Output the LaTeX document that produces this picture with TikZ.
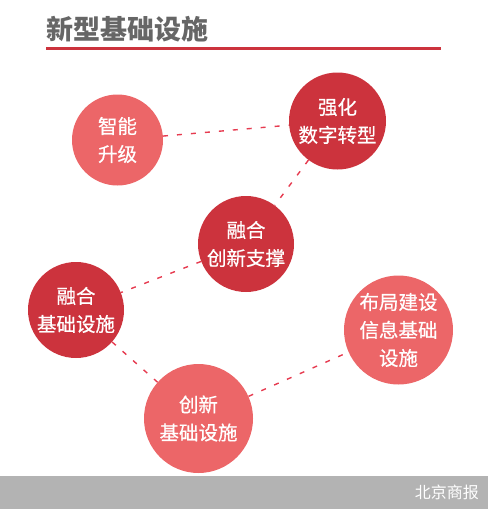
\documentclass[tikz,border=0pt]{standalone}
\usepackage{fontspec}
\usepackage{xcolor}
\usepackage{tikz}
\usetikzlibrary{positioning}
\newfontfamily\cjk{Noto Sans CJK SC}
\newfontfamily\cjkmid[FakeBold=0.6]{Noto Sans CJK SC}
\definecolor{deepred}{HTML}{CC333D}
\definecolor{lightred}{HTML}{EC6668}
\definecolor{dashred}{HTML}{E63B50}
\definecolor{titlegray}{HTML}{666666}
\definecolor{footgray}{HTML}{B3B3B3}

\begin{document}
\begin{tikzpicture}[
  x=1pt, y=-1pt,
  bubble/.style={circle, inner sep=0pt, align=center, text=white,
                 font=\cjkmid\fontsize{19.5}{28}\selectfont},
  darkbubble/.style={bubble, fill=deepred},
  lightbubble/.style={bubble, fill=lightred},
  link/.style={dashred, line width=1.4pt, dash pattern=on 5pt off 9pt}
]
  \useasboundingbox (0,0) rectangle (488,509);

  % 标题
  \node[anchor=west, inner sep=0pt, text=titlegray,
        font=\cjk\bfseries\fontsize{27}{30}\selectfont] (title) at (46,29) {新型基础设施};
  \draw[deepred, line width=3pt] (46,48) -- (441,48);

  % 圆
  \node[lightbubble, minimum size=91pt] (smart) at (117.5,140) {智能\\升级};
  \node[darkbubble, minimum size=97pt] (digital) at (337.5,121) {强化\\数字转型};
  \node[darkbubble, minimum size=96pt] (support) at (246,244) {融合\\创新支撑};
  \node[darkbubble, minimum size=96pt] (fusion) at (76,310) {融合\\基础设施};
  \node[lightbubble, minimum size=109pt] (info) at (398.5,330) {布局建设\\信息基础\\设施};
  \node[lightbubble, minimum size=109pt] (innov) at (198.5,418.5) {创新\\基础设施};

  % 虚线
  \draw[link] (smart) -- (digital);
  \draw[link] (digital) -- (support);
  \draw[link] (support) -- (fusion);
  \draw[link] (fusion) -- (innov);
  \draw[link] (innov) -- (info);

  % 底栏
  \fill[footgray] (0,476) rectangle (488,509);
  \node[anchor=east, inner sep=0pt, text=white,
        font=\cjk\fontsize{16}{18}\selectfont] (source) at (479,492) {北京商报};
\end{tikzpicture}
\end{document}
